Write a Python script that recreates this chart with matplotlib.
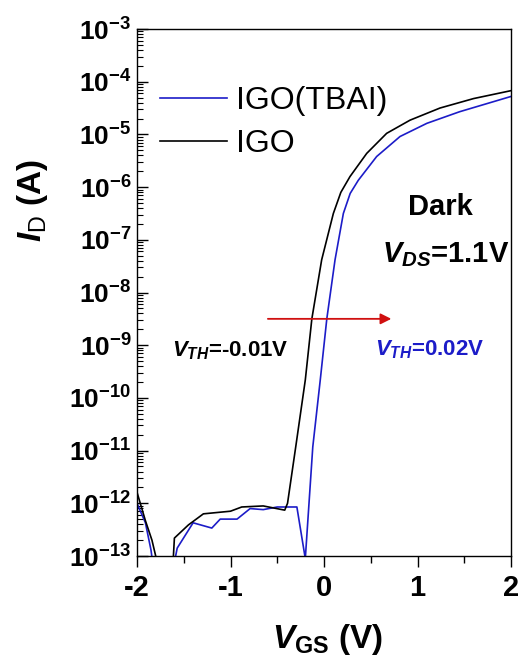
import matplotlib
matplotlib.use("Agg")
import matplotlib.pyplot as plt
import numpy as np
from matplotlib.ticker import FixedLocator, LogLocator, NullFormatter, FuncFormatter

plt.rcParams['font.family'] = ['Liberation Sans', 'DejaVu Sans']
plt.rcParams['mathtext.fontset'] = 'custom'
plt.rcParams['mathtext.rm'] = 'Liberation Sans:bold'
plt.rcParams['mathtext.it'] = 'Liberation Sans:italic:bold'
plt.rcParams['mathtext.bf'] = 'Liberation Sans:bold'
plt.rcParams['mathtext.sf'] = 'Liberation Sans'

# IGO (black) transfer curve, log10(I_D) vs V_GS
vgs_igo = [-2.0, -1.91, -1.84, -1.76, -1.62, -1.60, -1.45, -1.29, -1.0, -0.88, -0.65,
           -0.42, -0.39, -0.30, -0.20, -0.13, -0.025, 0.10, 0.18, 0.278, 0.457, 0.67,
           0.92, 1.24, 1.60, 2.0]
log_igo = [-11.79, -12.33, -12.7, -13.3, -13.3, -12.66, -12.41, -12.2, -12.15, -12.07, -12.05,
           -12.13, -12.0, -10.9, -9.66, -8.50, -7.38, -6.50, -6.10, -5.80, -5.36, -4.98,
           -4.73, -4.50, -4.32, -4.17]

# IGO(TBAI) (blue) transfer curve
vgs_tbai = [-2.0, -1.91, -1.85, -1.82, -1.62, -1.57, -1.40, -1.20, -1.11, -0.93, -0.79,
            -0.65, -0.50, -0.29, -0.20, -0.12, -0.04, 0.03, 0.118, 0.207, 0.28, 0.367,
            0.563, 0.813, 1.10, 1.45, 2.0]
log_tbai = [-12.0, -12.37, -12.89, -13.3, -13.3, -12.85, -12.37, -12.47, -12.3, -12.3, -12.1,
            -12.12, -12.07, -12.07, -13.05, -10.93, -9.66, -8.5, -7.38, -6.50, -6.12, -5.87,
            -5.42, -5.04, -4.79, -4.57, -4.28]

ids_igo = 10.0 ** np.array(log_igo)
ids_tbai = 10.0 ** np.array(log_tbai)

fig = plt.figure(figsize=(5.21, 6.66), dpi=100)
ax = fig.add_axes([137/521, 110/666, 374/521, 527/666])

blue = '#1c1cc8'
ax.semilogy(vgs_tbai, ids_tbai, color=blue, lw=1.2, label='IGO(TBAI)')
ax.semilogy(vgs_igo, ids_igo, color='black', lw=1.2, label='IGO')

ax.set_xlim(-2, 2)
ax.set_ylim(1e-13, 1e-3)

# y ticks: inward, with minor ticks
ax.yaxis.set_major_locator(LogLocator(base=10, numticks=20))
ax.yaxis.set_minor_locator(LogLocator(base=10, subs=np.arange(2, 10), numticks=20))
ax.yaxis.set_minor_formatter(NullFormatter())
ax.yaxis.set_major_formatter(FuncFormatter(
    lambda v, p: r'$\mathbf{10^{%d}}$' % int(round(np.log10(v)))))
ax.tick_params(axis='y', which='major', direction='in', length=8, width=1,
               labelsize=19, pad=4)
ax.tick_params(axis='y', which='minor', direction='in', length=4, width=0.8)

# x ticks: outward
ax.xaxis.set_major_locator(FixedLocator([-2, -1, 0, 1, 2]))
ax.xaxis.set_minor_locator(FixedLocator([-1.5, -0.5, 0.5, 1.5]))
ax.set_xticklabels(['-2', '-1', '0', '1', '2'], fontsize=21, fontweight='bold')
ax.tick_params(axis='x', which='major', direction='out', length=8, width=1, pad=5)
ax.tick_params(axis='x', which='minor', direction='out', length=5, width=1)

for s in ax.spines.values():
    s.set_linewidth(1.0)

ax.set_xlabel(r'$\mathit{V}_{\mathrm{GS}}$ (V)', fontsize=24, fontweight='bold')
ax.xaxis.set_label_coords(0.508, -0.125)
ax.set_ylabel(r'$\mathit{I}_{\mathsf{D}}$ (A)', fontsize=24, fontweight='bold')
ax.yaxis.set_label_coords(-0.232, 0.675)

leg = ax.legend(loc='upper left', bbox_to_anchor=(0.061, 0.892), frameon=False,
                fontsize=23, handlelength=2.1, handletextpad=0.3, labelspacing=0.42,
                borderaxespad=0, borderpad=0)

ax.text(0.81, 0.662, 'Dark', transform=ax.transAxes, fontsize=21, fontweight='bold',
        ha='center', va='center')
ax.text(0.995, 0.558, r'$\mathit{V}_{\mathit{DS}}$=1.1V', transform=ax.transAxes,
        fontsize=21, fontweight='bold', ha='right', va='baseline')
ax.text(0.094, 0.378, r'$\mathit{V}_{\mathit{TH}}$=-0.01V', transform=ax.transAxes,
        fontsize=16, fontweight='bold', ha='left', va='baseline', color='black')
ax.text(0.636, 0.381, r'$\mathit{V}_{\mathit{TH}}$=0.02V', transform=ax.transAxes,
        fontsize=16, fontweight='bold', ha='left', va='baseline', color=blue)

ax.annotate('', xy=(0.72, 10**-8.5), xytext=(-0.6, 10**-8.5),
            arrowprops=dict(arrowstyle='-|>', color='#d01010', lw=1.3,
                            mutation_scale=16, shrinkA=0, shrinkB=0))

fig.savefig('out.png', dpi=100)
